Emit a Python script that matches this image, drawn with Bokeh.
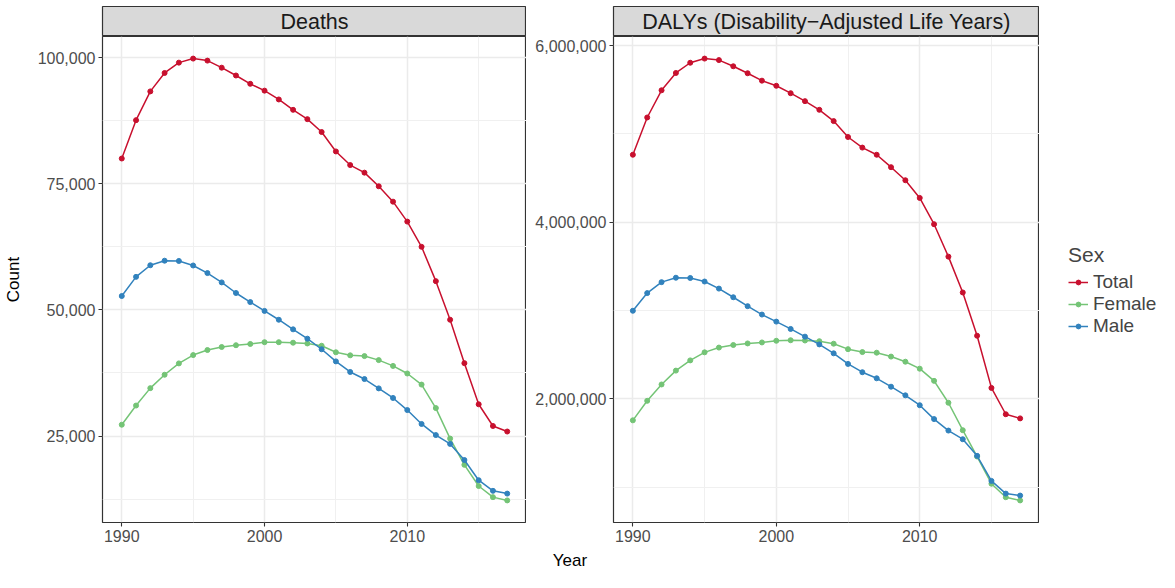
from bokeh.plotting import figure
from bokeh.layouts import row, column
from bokeh.models import (Range1d, FixedTicker, NumeralTickFormatter, Legend, LegendItem,
                          BasicTickFormatter)
from bokeh.core.properties import value
from bokeh.embed import file_html
from bokeh.resources import INLINE

years = list(range(1990, 2018))
sexes = ["Total", "Female", "Male"]
colors = ["#C8102E", "#74C476", "#3182BD"]
strip_labels = ["Deaths", "DALYs (Disability\u2212Adjusted Life Years)"]
x_title = "Year"
y_title = "Count"
legend_title = "Sex"

deaths_total = [80000, 87600, 93300, 96950, 99000, 99800, 99400, 98000, 96450, 94800,
                93450, 91700, 89650, 87800, 85250, 81400, 78700, 77200, 74500, 71450,
                67500, 62500, 55700, 48050, 39450, 31300, 27000, 25900]
deaths_female = [27250, 31050, 34500, 37150, 39400, 41050, 42050, 42650, 43000, 43250,
                 43600, 43600, 43500, 43350, 42900, 41600, 41000, 40850, 40050, 38900,
                 37400, 35200, 30550, 24500, 19300, 15100, 12900, 12250]
deaths_male = [52750, 56550, 58850, 59750, 59700, 58800, 57300, 55450, 53350, 51550,
               49800, 48050, 46150, 44300, 42200, 39800, 37700, 36300, 34450, 32550,
               30150, 27400, 25200, 23450, 20250, 16250, 14150, 13600]

dalys_total = [4765000, 5187000, 5495000, 5691000, 5807000, 5854000, 5837000, 5767000,
               5688000, 5604000, 5546000, 5462000, 5372000, 5274000, 5146000, 4966000,
               4846000, 4765000, 4624000, 4476000, 4276000, 3978000, 3611000, 3205000,
               2715000, 2124000, 1826000, 1779000]
dalys_female = [1757000, 1978000, 2163000, 2320000, 2436000, 2527000, 2581000, 2610000,
                2628000, 2639000, 2658000, 2664000, 2661000, 2653000, 2625000, 2563000,
                2530000, 2523000, 2479000, 2421000, 2342000, 2204000, 1956000, 1645000,
                1347000, 1039000, 886000, 850000]
dalys_male = [2998000, 3198000, 3322000, 3372000, 3369000, 3329000, 3249000, 3151000,
              3050000, 2955000, 2875000, 2792000, 2705000, 2617000, 2516000, 2396000,
              2302000, 2233000, 2138000, 2040000, 1928000, 1771000, 1641000, 1543000,
              1355000, 1071000, 927000, 905000]

x_ticks = [1990, 2000, 2010]
x_minor = [1995, 2005, 2015]
deaths_ticks = [25000, 50000, 75000, 100000]
deaths_minor = [12500, 37500, 62500, 87500]
dalys_ticks = [2000000, 4000000, 6000000]
dalys_minor = [1000000, 3000000, 5000000]

FONT = "Liberation Sans"
TOTAL_W = 1159
FRAME_W = 426
FRAME_H = 486
TOP = 6
STRIP_H = 30
BOTTOM = 26
YEAR_H = 24
L1 = 100
L2 = 87
LEG_W = TOTAL_W - (L1 + FRAME_W) - (L2 + FRAME_W)


def expand(vals, frac=0.05):
    lo, hi = min(vals), max(vals)
    d = (hi - lo) * frac
    return lo - d, hi + d


def make_strip(label, left):
    s = figure(width=left + FRAME_W, height=TOP + STRIP_H, output_backend="svg",
               toolbar_location=None, title=None, x_axis_type=None, y_axis_type=None,
               x_range=Range1d(0, 1), y_range=Range1d(0, 1),
               min_border_left=left, min_border_right=0, min_border_top=TOP,
               min_border_bottom=0)
    s.grid.visible = False
    s.background_fill_color = "#d9d9d9"
    s.border_fill_color = "white"
    s.outline_line_color = "#333333"
    s.outline_line_width = 1.2
    s.text(x=[0.5], y=[0.5], text=[label], text_align="center", text_baseline="middle",
           text_font=value(FONT), text_font_size="21.5px", text_color="#1a1a1a")
    return s


def make_panel(series, ticks, minor, left, ylabel=None):
    allv = [v for s in series for v in s]
    y0, y1 = expand(allv)
    x0, x1 = expand(years)
    p = figure(width=left + FRAME_W, height=FRAME_H + BOTTOM, output_backend="svg",
               toolbar_location=None, title=None,
               x_range=Range1d(x0, x1), y_range=Range1d(y0, y1),
               min_border_left=left, min_border_right=0, min_border_top=0,
               min_border_bottom=BOTTOM)
    p.background_fill_color = "white"
    p.border_fill_color = "white"
    p.outline_line_color = "#333333"
    p.outline_line_width = 1.2

    p.xaxis.ticker = FixedTicker(ticks=x_ticks, minor_ticks=x_minor)
    p.yaxis.ticker = FixedTicker(ticks=ticks, minor_ticks=minor)
    p.yaxis.formatter = NumeralTickFormatter(format="0,0")
    p.xaxis.formatter = BasicTickFormatter(use_scientific=False)
    for ax in (p.xaxis, p.yaxis):
        ax.axis_line_color = None
        ax.major_tick_line_color = "#333333"
        ax.major_tick_line_width = 1.1
        ax.major_tick_out = 4
        ax.major_tick_in = 0
        ax.minor_tick_line_color = None
        ax.major_label_text_font = FONT
        ax.major_label_text_font_size = "16px"
        ax.major_label_text_color = "#4d4d4d"
        ax.major_label_standoff = 3
    if ylabel:
        p.yaxis.axis_label = ylabel
        p.yaxis.axis_label_text_font = FONT
        p.yaxis.axis_label_text_font_size = "17px"
        p.yaxis.axis_label_text_font_style = "normal"
        p.yaxis.axis_label_text_color = "black"
        p.yaxis.axis_label_standoff = 12

    p.grid.grid_line_color = "#ebebeb"
    p.grid.grid_line_width = 1.5
    p.grid.minor_grid_line_color = "#f0f0f0"
    p.grid.minor_grid_line_width = 1.0

    for vals, col in zip(series, colors):
        p.line(years, vals, line_color=col, line_width=1.5)
        p.scatter(years, vals, size=5, fill_color=col, line_color=col)
    return p


s1 = make_strip(strip_labels[0], L1)
p1 = make_panel([deaths_total, deaths_female, deaths_male], deaths_ticks, deaths_minor,
                L1, ylabel=y_title)
s2 = make_strip(strip_labels[1], L2)
p2 = make_panel([dalys_total, dalys_female, dalys_male], dalys_ticks, dalys_minor, L2)

# legend column (to the right of the DALYs panel); its renderers lie outside its
# (empty) view, only the legend is visible
col_h = TOP + STRIP_H + FRAME_H + BOTTOM
pl = figure(width=LEG_W, height=col_h, output_backend="svg", toolbar_location=None,
            title=None, x_axis_type=None, y_axis_type=None,
            x_range=Range1d(0, 1), y_range=Range1d(0, 1), min_border=0)
pl.grid.visible = False
pl.outline_line_color = None
items = []
for name, col, vals in zip(sexes, colors, [dalys_total, dalys_female, dalys_male]):
    lr = pl.line(years, vals, line_color=col, line_width=1.5)
    sr = pl.scatter(years, vals, size=5, fill_color=col, line_color=col)
    items.append(LegendItem(label=name, renderers=[lr, sr]))
legend = Legend(items=items, location=(29, col_h - 337), title=legend_title,
                title_text_font=FONT, title_text_font_size="21px",
                title_text_font_style="normal", title_standoff=4,
                label_text_font=FONT, label_text_font_size="19px",
                glyph_width=20, glyph_height=12, label_height=20, label_standoff=5,
                spacing=0, padding=0, margin=0,
                background_fill_alpha=0, border_line_color=None)
pl.add_layout(legend)

# shared x-axis title row
py = figure(width=TOTAL_W, height=YEAR_H, output_backend="svg", toolbar_location=None,
            title=None, x_axis_type=None, y_axis_type=None,
            x_range=Range1d(0, TOTAL_W), y_range=Range1d(0, YEAR_H), min_border=0)
py.grid.visible = False
py.outline_line_color = None
py.text(x=[(L1 + (L1 + FRAME_W + L2 + FRAME_W)) / 2], y=[YEAR_H / 2], text=[x_title],
        text_align="center", text_baseline="middle",
        text_font=value(FONT), text_font_size="17px", text_color="black")

layout = column(row(column(s1, p1), column(s2, p2), pl), py)
open("out.html", "w").write(file_html(layout, INLINE))
